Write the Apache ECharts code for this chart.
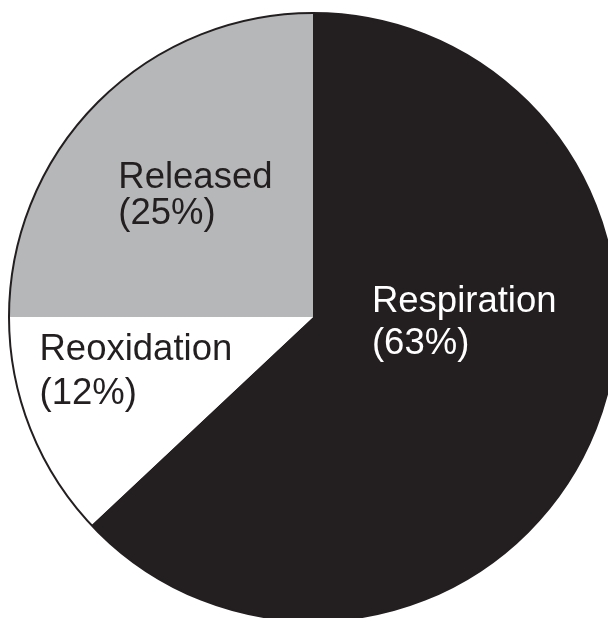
<!DOCTYPE html>
<html>
<head>
<meta charset="utf-8">
<script src="https://cdn.jsdelivr.net/npm/echarts@6/dist/echarts.min.js"></script>
<style>
html,body{margin:0;padding:0;background:#fff;}
#chart{width:608px;height:618px;}
</style>
</head>
<body>
<div id="chart"></div>
<script>
const categories = ['Respiration', 'Reoxidation', 'Released'];
const values = [63, 12, 25];
const sliceColors = ['#231f20', '#ffffff', '#b6b7b9'];
const labelColors = ['#ffffff', '#231f20', '#231f20'];
const labelOffsets = [[9, -56], [-33, -2], [-8, -11]];
const labelLineHeights = [42, 44, 36];

const chart = echarts.init(document.getElementById('chart'), null, {renderer: 'canvas'});

const data = categories.map((name, i) => ({
  name: name,
  value: values[i],
  itemStyle: {color: sliceColors[i]},
  label: {
    offset: labelOffsets[i],
    color: labelColors[i],
    lineHeight: labelLineHeights[i],
    rich: {
      a: {align: 'left', color: labelColors[i], fontSize: 36.5, lineHeight: labelLineHeights[i],
          fontFamily: '"Liberation Sans", Arial, Helvetica, sans-serif'}
    }
  }
}));

chart.setOption({
  animation: false,
  backgroundColor: '#ffffff',
  series: [
    {
      type: 'pie',
      center: [313, 317],
      radius: [0, 304],
      startAngle: 90,
      clockwise: true,
      silent: true,
      itemStyle: {borderWidth: 0},
      label: {
        show: true,
        position: 'inside',
        fontSize: 36.5,
        fontFamily: '"Liberation Sans", Arial, Helvetica, sans-serif',
        formatter: p => '{a|' + p.name + '}\n{a|(' + p.value + '%)}'
      },
      labelLine: {show: false},
      data: data
    },
    {
      type: 'pie',
      center: [313, 317],
      radius: [0, 304],
      silent: true,
      z: 5,
      label: {show: false},
      labelLine: {show: false},
      itemStyle: {color: 'rgba(0,0,0,0)', borderColor: '#231f20', borderWidth: 2},
      data: [{name: 'outline', value: 1}]
    }
  ]
});
</script>
</body>
</html>
